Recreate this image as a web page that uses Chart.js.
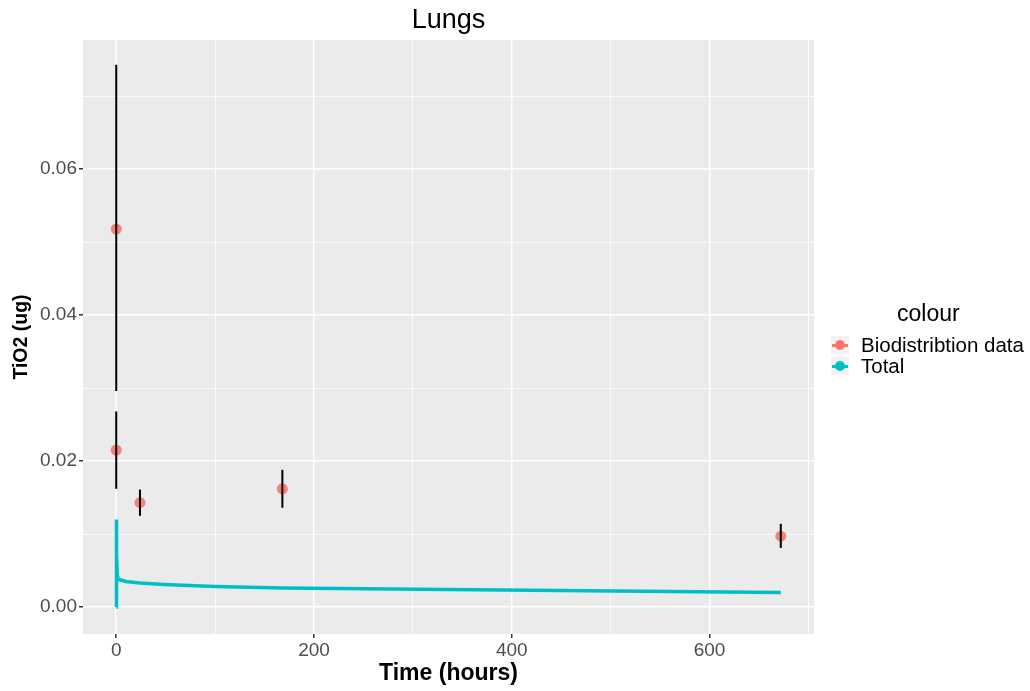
<!DOCTYPE html>
<html>
<head>
<meta charset="utf-8">
<script src="https://cdn.jsdelivr.net/npm/chart.js@4.4.1/dist/chart.umd.min.js"></script>
<style>
  body { margin: 0; background: #fff; font-family: "Liberation Sans", Arial, sans-serif; }
  #wrap { position: relative; width: 1030px; height: 691px; }
  #legend { position: absolute; left: 831px; top: 300px; color: #000; white-space: nowrap; }
  #legend .ttl { font-size: 23px; line-height: 26px; margin-left: 66px; margin-bottom: 8px; }
  #legend .row { display: flex; align-items: center; height: 21px; font-size: 20.5px; }
  #legend .key { position: relative; width: 18px; height: 18px; background: #f2f2f2; margin-right: 12px; flex: none; }
  #legend .key .ln { position: absolute; left: 1px; right: 1px; top: 8px; height: 3px; }
  #legend .key .dot { position: absolute; left: 4px; top: 4px; width: 10px; height: 10px; border-radius: 50%; }
</style>
</head>
<body>
<div id="wrap">
  <canvas id="chart" width="1030" height="691"></canvas>
  <div id="legend">
    <div class="ttl">colour</div>
    <div class="row"><span class="key"><span class="ln" style="background:#F8766D"></span><span class="dot" style="background:#F8766D"></span></span>Biodistribtion data</div>
    <div class="row"><span class="key"><span class="ln" style="background:#00BFC4"></span><span class="dot" style="background:#00BFC4"></span></span>Total</div>
  </div>
</div>
<script>
// measured lung burden (mean with error bar)
const sampleTimes = [0, 0, 24, 168, 672];
const sampleMeans = [0.0518, 0.0215, 0.0143, 0.0162, 0.0097];
const sampleLow = [0.0296, 0.0162, 0.0125, 0.0136, 0.0081];
const sampleHigh = [0.0743, 0.0268, 0.0161, 0.0188, 0.0114];

// model prediction "Total"
const modelTimes = [0, 0.05, 0.5, 1, 2, 10, 24, 48, 100, 168, 250, 336, 420, 504, 588, 672];
const modelValues = [0, 0.0120, 0.0073, 0.0045, 0.0038, 0.0035, 0.0033, 0.0031, 0.0028, 0.0026, 0.0025, 0.0024, 0.0023, 0.0022, 0.0021, 0.0020];

const xTicks = [0, 100, 200, 300, 400, 500, 600, 700];
const yTicks = [0, 0.01, 0.02, 0.03, 0.04, 0.05, 0.06, 0.07];

const RED = '#F8766D';
const CYAN = '#00BFC4';
const FONT = '"Liberation Sans", Arial';

const panelBg = {
  id: 'panelBg',
  beforeDraw(chart) {
    const a = chart.chartArea, ctx = chart.ctx;
    ctx.save();
    ctx.fillStyle = '#EBEBEB';
    ctx.fillRect(a.left, a.top, a.right - a.left, a.bottom - a.top);
    ctx.restore();
  }
};

const errorBars = {
  id: 'errorBars',
  afterDatasetsDraw(chart) {
    const x = chart.scales.x, y = chart.scales.y, ctx = chart.ctx;
    ctx.save();
    ctx.strokeStyle = '#000';
    ctx.lineWidth = 2;
    sampleTimes.forEach((t, i) => {
      const px = x.getPixelForValue(t);
      ctx.beginPath();
      ctx.moveTo(px, y.getPixelForValue(sampleLow[i]));
      ctx.lineTo(px, y.getPixelForValue(sampleHigh[i]));
      ctx.stroke();
    });
    ctx.restore();
  }
};

const isMajor = (v, step) => Math.abs(v / step - Math.round(v / step)) < 1e-6;

new Chart(document.getElementById('chart'), {
  type: 'scatter',
  data: {
    datasets: [
      {
        label: 'Total',
        data: modelTimes.map((t, i) => ({ x: t, y: modelValues[i] })),
        showLine: true,
        borderColor: CYAN,
        borderWidth: 3.5,
        pointRadius: 0,
        tension: 0
      },
      {
        label: 'Biodistribtion data',
        data: sampleTimes.map((t, i) => ({ x: t, y: sampleMeans[i] })),
        showLine: false,
        pointRadius: 5.5,
        pointBackgroundColor: 'rgba(248,118,109,0.9)',
        pointBorderWidth: 0
      }
    ]
  },
  options: {
    responsive: false,
    animation: false,
    layout: { padding: { left: 0, right: 216, top: 0, bottom: 0 } },
    plugins: {
      legend: { display: false },
      tooltip: { enabled: false },
      title: {
        display: true,
        text: 'Lungs',
        fullSize: false,
        color: '#000',
        font: { family: FONT, size: 27, weight: 'normal' },
        padding: { top: 4, bottom: 3.6 }
      }
    },
    scales: {
      x: {
        type: 'linear',
        min: -33.6,
        max: 705.6,
        afterBuildTicks: s => { s.ticks = xTicks.map(v => ({ value: v })); },
        afterFit: s => { s.height = 57; },
        border: { display: false },
        grid: {
          color: '#fff',
          lineWidth: c => isMajor(c.tick.value, 200) ? 1.5 : 0.75,
          tickColor: c => isMajor(c.tick.value, 200) ? '#333' : 'rgba(0,0,0,0)',
          tickLength: 4
        },
        ticks: {
          color: '#4D4D4D',
          padding: 1,
          font: { family: FONT, size: 19 },
          maxRotation: 0,
          autoSkip: false,
          callback: v => isMajor(v, 200) ? String(v) : ''
        },
        title: {
          display: true,
          text: 'Time (hours)',
          color: '#000',
          font: { family: FONT, size: 23, weight: 'bold' },
          padding: { top: 0, bottom: 4 }
        }
      },
      y: {
        type: 'linear',
        min: -0.0037,
        max: 0.0777,
        afterBuildTicks: s => { s.ticks = yTicks.map(v => ({ value: v })); },
        afterFit: s => { s.width = 83; },
        border: { display: false },
        grid: {
          color: '#fff',
          lineWidth: c => isMajor(c.tick.value, 0.02) ? 1.5 : 0.75,
          tickColor: c => isMajor(c.tick.value, 0.02) ? '#333' : 'rgba(0,0,0,0)',
          tickLength: 4
        },
        ticks: {
          color: '#4D4D4D',
          padding: 2,
          font: { family: FONT, size: 19 },
          autoSkip: false,
          callback: v => isMajor(v, 0.02) ? v.toFixed(2) : ''
        },
        title: {
          display: true,
          text: 'TiO2 (ug)',
          color: '#000',
          font: { family: FONT, size: 19.5, weight: 'bold' },
          padding: { top: 10, bottom: 0 }
        }
      }
    }
  },
  plugins: [panelBg, errorBars]
});
</script>
</body>
</html>
